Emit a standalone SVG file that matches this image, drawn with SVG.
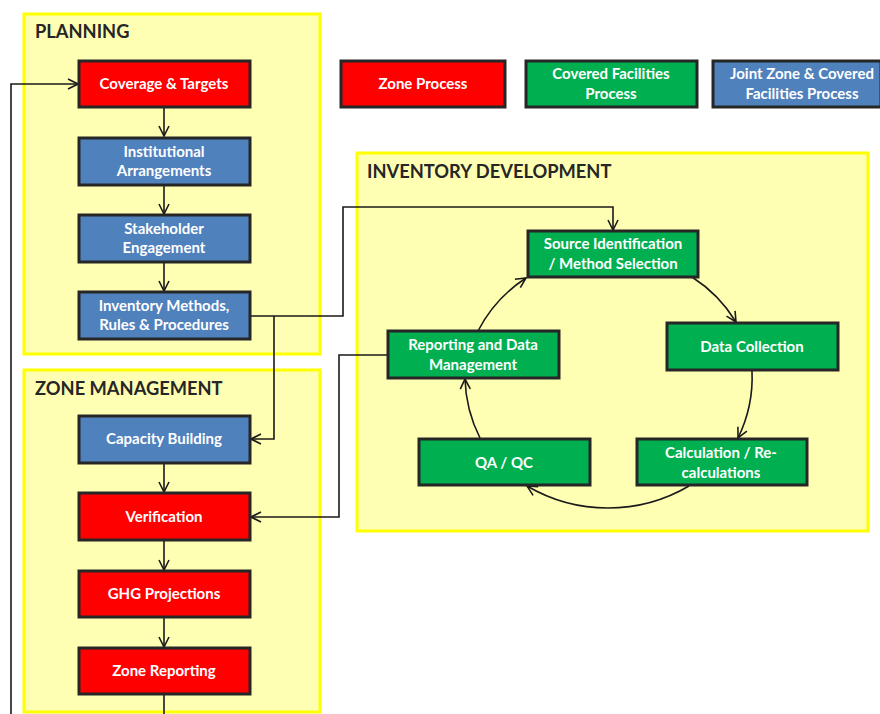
<svg xmlns="http://www.w3.org/2000/svg" width="880" height="714" viewBox="0 0 880 714">
<defs>
<style>
.panel{fill:#FFFFB3;stroke:#FFFF00;stroke-width:3}
.head{font-family:Lato,"Liberation Sans",sans-serif;font-weight:bold;font-size:18.3px;fill:#262626}
.box{stroke:#262626;stroke-width:3}
.red{fill:#FF0000}.green{fill:#00B050}.blue{fill:#4F81BD}
.t{font-family:Lato,"Liberation Sans",sans-serif;font-weight:bold;font-size:15px;fill:#fff;text-anchor:middle}
.c{fill:none;stroke:#1a1a1a;stroke-width:1.6}
</style>
<marker id="ah" viewBox="0 0 12 12" refX="11" refY="6" markerWidth="12" markerHeight="12" markerUnits="userSpaceOnUse" orient="auto">
<path d="M1,1 L11,6 L1,11" fill="none" stroke="#1a1a1a" stroke-width="1.6"/>
</marker>
</defs>
<rect width="880" height="714" fill="#fff"/>
<g id="panel-planning"><rect class="panel" x="24" y="14" width="296" height="340"/><text class="head" x="35" y="38">PLANNING</text></g>
<g id="panel-zone"><rect class="panel" x="24" y="370" width="296" height="342"/><text class="head" x="35" y="395">ZONE MANAGEMENT</text></g>
<g id="panel-inventory"><rect class="panel" x="357" y="153" width="511" height="378"/><text class="head" x="367" y="178">INVENTORY DEVELOPMENT</text></g>

<g id="connectors">
<path class="c" d="M11,714 V84 H78" marker-end="url(#ah)"/>
<path class="c" d="M164,107 V136" marker-end="url(#ah)"/>
<path class="c" d="M164,185 V214" marker-end="url(#ah)"/>
<path class="c" d="M164,262 V291" marker-end="url(#ah)"/>
<path class="c" d="M251,316 H343 V207 H613 V230" marker-end="url(#ah)"/>
<path class="c" d="M274,316 V439 H251" marker-end="url(#ah)"/>
<path class="c" d="M388,355 H339 V517 H251" marker-end="url(#ah)"/>
<path class="c" d="M164,463 V492" marker-end="url(#ah)"/>
<path class="c" d="M164,540 V570" marker-end="url(#ah)"/>
<path class="c" d="M164,617 V647" marker-end="url(#ah)"/>
<path class="c" d="M164,694 V714"/>
<path class="c" d="M692,277 A140 140 0 0 1 736,322" marker-end="url(#ah)"/>
<path class="c" d="M752,371 A138 138 0 0 1 738,438" marker-end="url(#ah)"/>
<path class="c" d="M689,486 A160 160 0 0 1 527,486" marker-end="url(#ah)"/>
<path class="c" d="M480,438 A140 140 0 0 1 465,379" marker-end="url(#ah)"/>
<path class="c" d="M478,331 A140 140 0 0 1 526,278" marker-end="url(#ah)"/>
</g>

<g id="legend-zone"><rect class="box red" x="341" y="61" width="164" height="46"/><text class="t" x="423" y="89">Zone Process</text></g>
<g id="legend-covered"><rect class="box green" x="526" y="61" width="171" height="46"/><text class="t" x="611" y="79">Covered Facilities</text><text class="t" x="611" y="99">Process</text></g>
<g id="legend-joint"><rect class="box blue" x="713" y="61" width="168" height="46"/><text class="t" x="802" y="79">Joint Zone &amp; Covered</text><text class="t" x="802" y="99">Facilities Process</text></g>

<g id="coverage"><rect class="box red" x="79" y="61" width="171" height="46"/><text class="t" x="164" y="89">Coverage &amp; Targets</text></g>
<g id="institutional"><rect class="box blue" x="79" y="138" width="171" height="47"/><text class="t" x="164" y="157">Institutional</text><text class="t" x="164" y="176">Arrangements</text></g>
<g id="stakeholder"><rect class="box blue" x="79" y="215" width="171" height="47"/><text class="t" x="164" y="234">Stakeholder</text><text class="t" x="164" y="253">Engagement</text></g>
<g id="inventory-methods"><rect class="box blue" x="79" y="292" width="171" height="47"/><text class="t" x="164" y="311">Inventory Methods,</text><text class="t" x="164" y="330">Rules &amp; Procedures</text></g>

<g id="capacity"><rect class="box blue" x="79" y="416" width="171" height="47"/><text class="t" x="164" y="444">Capacity Building</text></g>
<g id="verification"><rect class="box red" x="79" y="493" width="171" height="47"/><text class="t" x="164" y="522">Verification</text></g>
<g id="ghg"><rect class="box red" x="79" y="571" width="171" height="46"/><text class="t" x="164" y="599">GHG Projections</text></g>
<g id="zone-reporting"><rect class="box red" x="79" y="648" width="171" height="46"/><text class="t" x="164" y="676">Zone Reporting</text></g>

<g id="source"><rect class="box green" x="528" y="231" width="170" height="46"/><text class="t" x="613" y="249">Source Identification</text><text class="t" x="613" y="269">/ Method Selection</text></g>
<g id="data-collection"><rect class="box green" x="667" y="323" width="171" height="47"/><text class="t" x="752" y="352">Data Collection</text></g>
<g id="calculation"><rect class="box green" x="637" y="439" width="170" height="46"/><text class="t" x="721" y="458">Calculation / Re-</text><text class="t" x="721" y="478">calculations</text></g>
<g id="qaqc"><rect class="box green" x="419" y="439" width="171" height="46"/><text class="t" x="504" y="468">QA / QC</text></g>
<g id="reporting-data"><rect class="box green" x="388" y="331" width="171" height="47"/><text class="t" x="473" y="350">Reporting and Data</text><text class="t" x="473" y="370">Management</text></g>
</svg>
